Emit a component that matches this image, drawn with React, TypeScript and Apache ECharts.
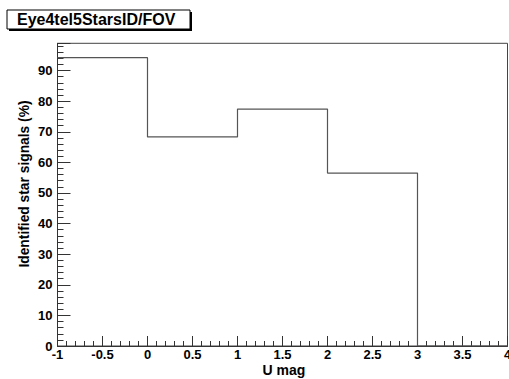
import React, { useEffect, useRef } from "react";
import * as echarts from "echarts";

const binEdges = [-1, 0, 1, 2, 3, 4];
const binValues = [94.2, 68.3, 77.4, 56.5, 0];
const yMax = 98.9;
const titleText = "Eye4tel5StarsID/FOV";
const xTitle = "U mag";
const yTitle = "Identified star signals (%)";

export default function App() {
  const ref = useRef<HTMLDivElement>(null);
  useEffect(() => {
    document.body.style.margin = "0";
    const chart = echarts.init(ref.current!, null, { renderer: "svg" });
    const pts: [number, number][] = binValues.map((v, i) => [binEdges[i], v]);
    pts.push([binEdges[binEdges.length - 1], binValues[binValues.length - 1]]);
    const font = "Liberation Sans, Arial, Helvetica, sans-serif";
    chart.setOption({
      animation: false,
      backgroundColor: "#fff",
      grid: {
        left: 57.5,
        top: 43.3,
        right: 1.5,
        bottom: 33,
        show: true,
        borderColor: "#444",
        borderWidth: 1,
        containLabel: false,
        outerBoundsMode: "none",
      },
      xAxis: {
        type: "value",
        min: -1,
        max: 4,
        interval: 0.5,
        axisLine: { show: true, onZero: false, lineStyle: { color: "#333", width: 1 } },
        axisTick: { show: true, inside: true, length: 10, lineStyle: { color: "#333" } },
        minorTick: { show: true, splitNumber: 5, length: 5, lineStyle: { color: "#333" } },
        splitLine: { show: false },
        axisLabel: {
          color: "#000",
          fontFamily: font,
          fontWeight: "bold",
          fontSize: 13,
          margin: 2,
          showMaxLabel: true,
          hideOverlap: false,
          formatter: (v: number) => String(v),
        },
      },
      yAxis: {
        type: "value",
        min: 0,
        max: yMax,
        interval: 10,
        axisLine: { show: true, onZero: false, lineStyle: { color: "#333", width: 1 } },
        axisTick: { show: true, inside: true, length: 13, lineStyle: { color: "#333" } },
        minorTick: { show: true, splitNumber: 5, length: 6, lineStyle: { color: "#333" } },
        splitLine: { show: false },
        axisLabel: {
          color: "#000",
          fontFamily: font,
          fontWeight: "bold",
          fontSize: 13,
          margin: 5,
          formatter: (v: number) => (Math.abs(v % 10) < 1e-6 ? String(v) : ""),
        },
      },
      series: [
        {
          type: "line",
          step: "end",
          data: pts,
          symbol: "none",
          lineStyle: { color: "#555", width: 1.2 },
        },
      ],
      graphic: [
        { type: "rect", shape: { x: 9, y: 12, width: 183, height: 19 }, style: { fill: "#000" } },
        { type: "rect", shape: { x: 7, y: 10, width: 183, height: 19 }, style: { fill: "#fff", stroke: "#000", lineWidth: 1 } },
        {
          type: "text",
          x: 17,
          y: 19.5,
          style: { text: titleText, fill: "#000", font: `bold 16px ${font}`, verticalAlign: "middle", align: "left" },
        },
        {
          type: "text",
          x: 284,
          y: 363,
          style: { text: xTitle, fill: "#000", font: `bold 14px ${font}`, verticalAlign: "top", align: "center" },
        },
        {
          type: "text",
          x: 24,
          y: 184,
          rotation: Math.PI / 2,
          style: { text: yTitle, fill: "#000", font: `bold 13.8px ${font}`, verticalAlign: "middle", align: "center" },
        },
      ],
    });
    return () => chart.dispose();
  }, []);
  return <div ref={ref} style={{ width: 509, height: 379 }} />;
}
